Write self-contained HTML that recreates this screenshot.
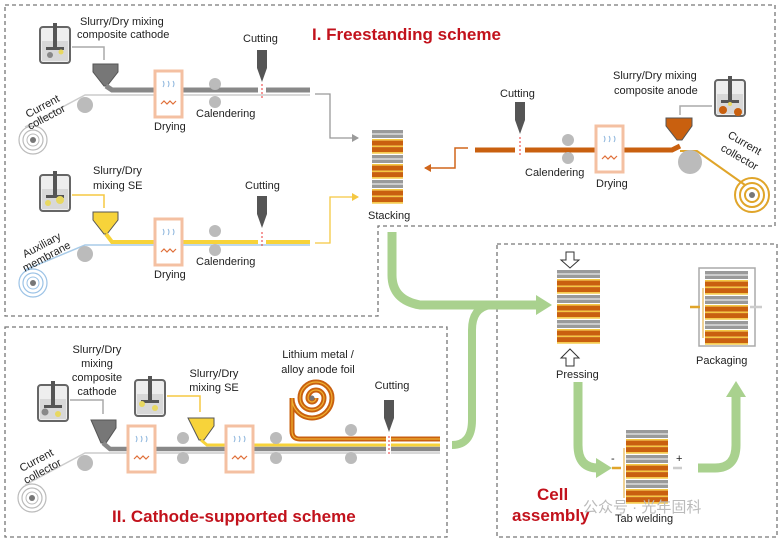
<!DOCTYPE html>
<html><head><meta charset="utf-8"><style>
html,body{margin:0;padding:0;background:#fff;}
svg{display:block;font-family:"Liberation Sans",Arial,sans-serif;}
.t{font-size:11px;fill:#222;}
.r{font-size:17px;font-weight:bold;fill:#c2121c;}
</style></head><body>
<svg width="780" height="540" viewBox="0 0 780 540" xmlns="http://www.w3.org/2000/svg">
<defs>
<pattern id="stk" patternUnits="userSpaceOnUse" width="60" height="25">
<rect x="0" y="0" width="60" height="3.5" fill="#9a9a9a"/>
<rect x="0" y="4.5" width="60" height="3.5" fill="#9a9a9a"/>
<rect x="0" y="9" width="60" height="1.6" fill="#f5c842"/>
<rect x="0" y="10.6" width="60" height="5" fill="#c9600f"/>
<rect x="0" y="15.6" width="60" height="1.5" fill="#f5c842"/>
<rect x="0" y="17.1" width="60" height="5" fill="#c9600f"/>
<rect x="0" y="22.1" width="60" height="1.6" fill="#f5c842"/>
</pattern>
<marker id="ag" markerWidth="8" markerHeight="8" refX="6" refY="4" orient="auto" markerUnits="userSpaceOnUse"><path d="M0,0 L7,4 L0,8 Z" fill="#9a9a9a"/></marker>
<marker id="ay" markerWidth="8" markerHeight="8" refX="6" refY="4" orient="auto" markerUnits="userSpaceOnUse"><path d="M0,0 L7,4 L0,8 Z" fill="#f5c842"/></marker>
<marker id="ao" markerWidth="8" markerHeight="8" refX="6" refY="4" orient="auto" markerUnits="userSpaceOnUse"><path d="M0,0 L7,4 L0,8 Z" fill="#d0661c"/></marker>
<g id="mixer"><rect x="0" y="0" width="30" height="36" rx="3" fill="#eee" stroke="#666" stroke-width="2"/><rect x="2" y="14" width="26" height="20" fill="#d8d8d8"/><rect x="13" y="-4" width="4" height="26" fill="#555"/><rect x="6" y="20" width="18" height="3" fill="#555"/></g>
<g id="dry"><rect x="0" y="0" width="27" height="46" fill="#fff" stroke="#f4c0a2" stroke-width="3"/><path d="M8,10 q2,3 0,6 M13,10 q2,3 0,6 M18,10 q2,3 0,6" stroke="#8ab4dc" fill="none" stroke-width="1"/><path d="M6,33 l3,-3 l3,3 l3,-3 l3,3 l3,-3" stroke="#e0703a" fill="none" stroke-width="1.2"/></g>
<g id="knife"><rect x="-5" y="0" width="10" height="18" fill="#555"/><path d="M-5,18 L5,18 L0,32 Z" fill="#555"/></g>
</defs>

<path d="M5,5 H775 V226 H378 V316 H5 Z" fill="none" stroke="#777" stroke-width="1.3" stroke-dasharray="4,3"/>
<rect x="5" y="327" width="442" height="210" fill="none" stroke="#777" stroke-width="1.3" stroke-dasharray="4,3"/>
<rect x="497" y="244" width="280" height="293" fill="none" stroke="#777" stroke-width="1.3" stroke-dasharray="4,3"/>

<text x="312" y="40" class="r">I. Freestanding scheme</text>

<use href="#mixer" x="40" y="27"/>
<circle cx="50" cy="55" r="3" fill="#888"/><circle cx="61" cy="52" r="2.5" fill="#e8d860"/>
<path d="M72,47 H104 V60" stroke="#aaa" fill="none" stroke-width="1.5"/>
<path d="M93,64 H118 V72 L107,86 L104,86 L93,72 Z" fill="#777" stroke="#555"/>
<circle cx="33" cy="140" r="14" fill="none" stroke="#bbb" stroke-width="1.2"/><circle cx="33" cy="140" r="10" fill="none" stroke="#bbb" stroke-width="1.2"/><circle cx="33" cy="140" r="6" fill="none" stroke="#bbb"/><circle cx="33" cy="140" r="3" fill="#777"/>
<path d="M25,127 L85,95 H310" stroke="#ccc" fill="none" stroke-width="1.5"/>
<circle cx="85" cy="105" r="8" fill="#bbb"/>
<path d="M106,86 L112,90 H258" stroke="#888" fill="none" stroke-width="5"/><path d="M266,90 H310" stroke="#888" fill="none" stroke-width="5"/>
<use href="#dry" x="155" y="71"/>
<circle cx="215" cy="84" r="6" fill="#bbb"/><circle cx="215" cy="102" r="6" fill="#bbb"/>
<use href="#knife" x="262" y="50"/>
<path d="M262,84 V98" stroke="#e33" stroke-dasharray="2,2"/>
<text x="80" y="25" class="t">Slurry/Dry mixing</text><text x="77" y="38" class="t">composite cathode</text>
<text x="243" y="42" class="t">Cutting</text>
<text x="196" y="117" class="t">Calendering</text>
<text x="154" y="130" class="t">Drying</text>
<text class="t" transform="translate(28,118) rotate(-28)">Current</text>
<text class="t" transform="translate(30,130) rotate(-28)">collector</text>
<path d="M315,94 H330 V138 H358" stroke="#999" fill="none" stroke-width="1.3" marker-end="url(#ag)"/>

<use href="#mixer" x="40" y="175"/>
<circle cx="48" cy="203" r="3" fill="#e8d860"/><circle cx="60" cy="200" r="4" fill="#e8d860"/>
<path d="M72,195 H104 V208" stroke="#f5c842" fill="none" stroke-width="1.5"/>
<path d="M93,212 H118 V220 L107,234 L104,234 L93,220 Z" fill="#f7d33a" stroke="#555"/>
<circle cx="33" cy="283" r="14" fill="none" stroke="#9cc3e6" stroke-width="1.2"/><circle cx="33" cy="283" r="10" fill="none" stroke="#9cc3e6" stroke-width="1.2"/><circle cx="33" cy="283" r="6" fill="none" stroke="#9cc3e6"/><circle cx="33" cy="283" r="3" fill="#777"/>
<path d="M25,270 L85,245 H310" stroke="#a8cbe8" fill="none" stroke-width="1.5"/>
<circle cx="85" cy="254" r="8" fill="#bbb"/>
<path d="M106,234 L112,242 H258" stroke="#f7d33a" fill="none" stroke-width="4"/><path d="M266,242 H310" stroke="#f7d33a" fill="none" stroke-width="4"/>
<use href="#dry" x="155" y="219"/>
<circle cx="215" cy="231" r="6" fill="#bbb"/><circle cx="215" cy="250" r="6" fill="#bbb"/>
<use href="#knife" x="262" y="196"/>
<path d="M262,232 V246" stroke="#e33" stroke-dasharray="2,2"/>
<text x="93" y="174" class="t">Slurry/Dry</text><text x="93" y="189" class="t">mixing SE</text>
<text x="245" y="189" class="t">Cutting</text>
<text x="196" y="265" class="t">Calendering</text>
<text x="154" y="278" class="t">Drying</text>
<text class="t" transform="translate(25,258) rotate(-28)">Auxiliary</text>
<text class="t" transform="translate(25,272) rotate(-28)">membrane</text>
<path d="M315,243 H330 V197 H358" stroke="#f5c842" fill="none" stroke-width="1.3" marker-end="url(#ay)"/>

<g transform="translate(372,130)"><rect x="0" y="0" width="31" height="75" fill="url(#stk)"/></g>
<text x="368" y="219" class="t">Stacking</text>

<use href="#mixer" x="715" y="80"/>
<circle cx="723" cy="110" r="4" fill="#c9600f"/><circle cx="738" cy="112" r="4" fill="#c9600f"/><circle cx="730" cy="104" r="2" fill="#e8d860"/>
<path d="M712,106 H680 V115" stroke="#aaa" fill="none" stroke-width="1.5"/>
<path d="M666,118 H692 V126 L682,140 L677,140 L666,126 Z" fill="#c9600f" stroke="#555"/>
<path d="M680,146 L672,150 H525 M515,150 H475" stroke="#c9600f" fill="none" stroke-width="5"/>
<path d="M680,151 H697 L745,185" stroke="#e0a52a" fill="none" stroke-width="2"/>
<circle cx="752" cy="195" r="17" fill="none" stroke="#e0a52a" stroke-width="2"/><circle cx="752" cy="195" r="12" fill="none" stroke="#e0a52a" stroke-width="2"/><circle cx="752" cy="195" r="7" fill="none" stroke="#e0a52a" stroke-width="2"/><circle cx="752" cy="195" r="3" fill="#777"/>
<circle cx="690" cy="162" r="12" fill="#bbb"/>
<circle cx="568" cy="140" r="6" fill="#bbb"/><circle cx="568" cy="158" r="6" fill="#bbb"/>
<use href="#dry" x="596" y="126"/>
<use href="#knife" x="520" y="102"/>
<path d="M520,137 V155" stroke="#e33" stroke-dasharray="2,2"/>
<text x="500" y="97" class="t">Cutting</text>
<text x="613" y="79" class="t">Slurry/Dry mixing</text><text x="614" y="94" class="t">composite anode</text>
<text x="525" y="176" class="t">Calendering</text>
<text x="596" y="187" class="t">Drying</text>
<text class="t" transform="translate(727,137) rotate(30)">Current</text>
<text class="t" transform="translate(720,150) rotate(30)">collector</text>
<path d="M468,148 H455 V168 H425" stroke="#d0661c" fill="none" stroke-width="1.5" marker-end="url(#ao)"/>

<path d="M392,232 V275 Q392,300 420,305 H538" stroke="#a9d18e" fill="none" stroke-width="9"/>
<path d="M536,295 L552,305 L536,315 Z" fill="#a9d18e"/>
<path d="M452,445 Q472,445 472,420 V330 Q472,308 490,305" stroke="#a9d18e" fill="none" stroke-width="8"/>
<path d="M578,382 V445 Q578,468 598,468" stroke="#a9d18e" fill="none" stroke-width="9"/>
<path d="M596,458 L612,468 L596,478 Z" fill="#a9d18e"/>
<path d="M698,468 H715 Q736,468 736,445 V395" stroke="#a9d18e" fill="none" stroke-width="9"/>
<path d="M726,397 L736,381 L746,397 Z" fill="#a9d18e"/>

<g transform="translate(557,270)"><rect x="0" y="0" width="43" height="75" fill="url(#stk)"/></g>
<path d="M566,252 H574 V260 H579 L570,268 L561,260 H566 Z" fill="#fff" stroke="#333"/>
<path d="M566,366 H574 V358 H579 L570,349 L561,358 H566 Z" fill="#fff" stroke="#333"/>
<text x="556" y="378" class="t">Pressing</text>

<g transform="translate(626,430)"><rect x="0" y="0" width="42" height="75" fill="url(#stk)"/></g>
<path d="M624,448 V498" stroke="#e0a52a" fill="none"/>
<path d="M612,468 H621" stroke="#e0a52a" stroke-width="2.5"/>
<path d="M673,468 H682" stroke="#ccc" stroke-width="2.5"/>
<text x="611" y="462" class="t">-</text><text x="676" y="462" class="t">+</text>
<text x="615" y="522" class="t">Tab welding</text>

<rect x="699" y="268" width="56" height="78" fill="#fff" stroke="#aaa" stroke-width="1.5"/>
<g transform="translate(705,271)"><rect x="0" y="0" width="43" height="74" fill="url(#stk)"/></g>
<path d="M703,288 V338" stroke="#e0a52a" fill="none"/>
<path d="M690,307 H700" stroke="#e0a52a" stroke-width="2.5"/>
<path d="M750,307 H762" stroke="#ccc" stroke-width="2.5"/>
<text x="696" y="364" class="t">Packaging</text>
<text x="537" y="500" class="r">Cell</text>
<text x="512" y="521" class="r">assembly</text>
<text x="583" y="512" font-size="15" fill="#bbb" style="font-family:'Liberation Sans','Noto Sans CJK SC',sans-serif">公众号 · 光年固科</text>

<use href="#mixer" x="38" y="385"/>
<circle cx="45" cy="412" r="3.5" fill="#888"/><circle cx="58" cy="414" r="3" fill="#e8d860"/>
<path d="M70,400 H103 V414" stroke="#aaa" fill="none" stroke-width="1.5"/>
<path d="M91,420 H116 V428 L106,443 L101,443 Z" fill="#777" stroke="#555"/>
<use href="#mixer" x="135" y="380"/>
<circle cx="142" cy="404" r="3" fill="#e8d860"/><circle cx="155" cy="408" r="3" fill="#e8d860"/>
<path d="M167,396 H200 V412" stroke="#f5c842" fill="none" stroke-width="1.5"/>
<path d="M188,418 H214 V426 L204,440 L199,440 Z" fill="#f7d33a" stroke="#555"/>
<circle cx="32" cy="498" r="14" fill="none" stroke="#bbb" stroke-width="1.2"/><circle cx="32" cy="498" r="10" fill="none" stroke="#bbb" stroke-width="1.2"/><circle cx="32" cy="498" r="6" fill="none" stroke="#bbb"/><circle cx="32" cy="498" r="3" fill="#777"/>
<path d="M25,485 L85,453 H440" stroke="#ccc" fill="none" stroke-width="1.5"/>
<circle cx="85" cy="463" r="8" fill="#bbb"/>
<path d="M103,443 L110,449 H440" stroke="#888" fill="none" stroke-width="4.5"/>
<path d="M201,440 L207,445 H440" stroke="#f7d33a" fill="none" stroke-width="3"/>
<path d="M300,439 H440" stroke="#c9600f" fill="none" stroke-width="5"/>
<path d="M316,398 A4,4 0 1 1 308,398 A8,8 0 1 1 324,398 A12,12 0 1 1 300,398 A16,16 0 1 1 332,398 A20,20 0 1 1 292,398 V431 Q292,439 300,439" stroke="#c9600f" fill="none" stroke-width="5"/>
<path d="M316,398 A4,4 0 1 1 308,398 A8,8 0 1 1 324,398 A12,12 0 1 1 300,398 A16,16 0 1 1 332,398 A20,20 0 1 1 292,398 V431 Q292,439 300,439 H440" stroke="#f0b030" fill="none" stroke-width="1.2"/>
<circle cx="312" cy="398" r="2.5" fill="#777"/>
<rect x="386" y="430" width="5" height="24" fill="#fff"/>
<use href="#dry" x="128" y="426"/>
<use href="#dry" x="226" y="426"/>
<circle cx="183" cy="438" r="6" fill="#bbb"/><circle cx="183" cy="458" r="6" fill="#bbb"/>
<circle cx="276" cy="438" r="6" fill="#bbb"/><circle cx="276" cy="458" r="6" fill="#bbb"/>
<circle cx="351" cy="430" r="6" fill="#bbb"/><circle cx="351" cy="458" r="6" fill="#bbb"/>
<use href="#knife" x="389" y="400"/>
<path d="M389,436 V456" stroke="#e33" stroke-dasharray="2,2"/>
<text x="97" y="353" class="t" text-anchor="middle">Slurry/Dry</text>
<text x="97" y="367" class="t" text-anchor="middle">mixing</text>
<text x="97" y="381" class="t" text-anchor="middle">composite</text>
<text x="97" y="395" class="t" text-anchor="middle">cathode</text>
<text x="214" y="377" class="t" text-anchor="middle">Slurry/Dry</text>
<text x="214" y="391" class="t" text-anchor="middle">mixing SE</text>
<text x="318" y="358" class="t" text-anchor="middle">Lithium metal /</text>
<text x="318" y="373" class="t" text-anchor="middle">alloy anode foil</text>
<text x="392" y="389" class="t" text-anchor="middle">Cutting</text>
<text class="t" transform="translate(22,472) rotate(-28)">Current</text>
<text class="t" transform="translate(26,484) rotate(-28)">collector</text>
<text x="112" y="522" class="r">II. Cathode-supported scheme</text>
</svg>
</body></html>
